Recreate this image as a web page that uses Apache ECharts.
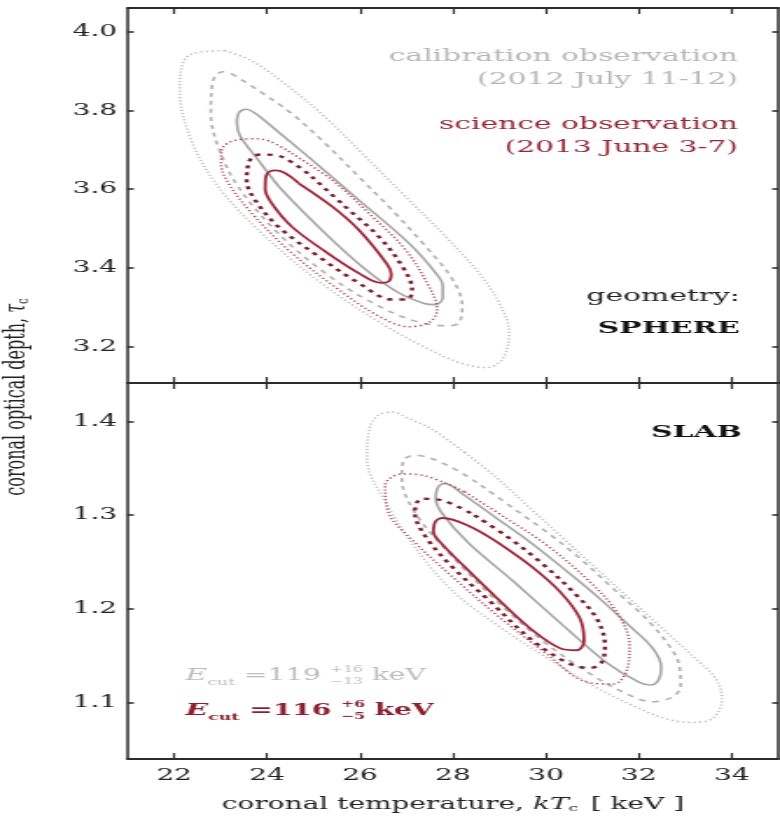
<!DOCTYPE html>
<html>
<head>
<meta charset="utf-8">
<script src="https://cdn.jsdelivr.net/npm/echarts@6.0.0/dist/echarts.min.js"></script>
<style>
  html, body { margin: 0; padding: 0; background: #fff; overflow: hidden; }
  /* the reference figure is a horizontally stretched image, so draw narrow and stretch */
  #chart { width: 446px; height: 819px; transform-origin: 0 0; transform: scaleX(1.7489); }
</style>
</head>
<body>
<div id="chart"></div>
<script>
const xTicks = [22, 24, 26, 28, 30, 32, 34];
const sphereTicks = [3.2, 3.4, 3.6, 3.8, 4.0];
const slabTicks = [1.1, 1.2, 1.3, 1.4];

// confidence contours [kT, tau]
// SPHERE, calibration observation (1, 2, 3 sigma)
const sphereCal1 = [[24.89,3.682],[25.97,3.573],[27.05,3.463],[27.63,3.387],[27.78,3.355],[27.78,3.325],[27.62,3.307],[27.38,3.31],[26.83,3.337],[26.12,3.396],[25.25,3.488],[24.32,3.598],[23.81,3.674],[23.42,3.735],[23.35,3.77],[23.40,3.795],[23.55,3.803],[23.75,3.792],[24.03,3.766],[24.89,3.682]];
const sphereCal2 = [[23.24,3.893],[23.81,3.851],[24.53,3.792],[25.25,3.716],[25.97,3.632],[26.69,3.547],[27.41,3.455],[27.99,3.371],[28.20,3.303],[28.13,3.261],[27.91,3.253],[27.19,3.265],[26.26,3.312],[25.25,3.387],[24.24,3.488],[23.38,3.606],[22.95,3.707],[22.79,3.792],[22.82,3.867],[22.90,3.889],[23.05,3.898],[23.24,3.893]];
const sphereCal3 = [[23.09,3.952],[23.67,3.926],[24.39,3.867],[25.25,3.783],[26.12,3.682],[26.98,3.581],[27.84,3.48],[28.56,3.387],[28.99,3.312],[29.21,3.236],[29.06,3.168],[28.71,3.147],[28.13,3.16],[27.41,3.198],[26.55,3.253],[25.25,3.354],[23.96,3.48],[22.95,3.606],[22.37,3.724],[22.12,3.851],[22.16,3.909],[22.37,3.943],[23.09,3.952]];
// SPHERE, science observation
const sphereSci1 = [[24.68,3.615],[25.40,3.556],[25.97,3.497],[26.58,3.41],[26.67,3.385],[26.62,3.366],[26.45,3.362],[25.97,3.387],[25.25,3.442],[24.53,3.505],[24.10,3.564],[23.96,3.60],[23.97,3.63],[24.05,3.645],[24.20,3.648],[24.68,3.615]];
const sphereSci2 = [[24.96,3.632],[25.68,3.556],[26.40,3.48],[26.91,3.404],[27.12,3.345],[27.01,3.32],[26.69,3.32],[25.97,3.362],[25.11,3.429],[24.24,3.505],[23.74,3.573],[23.56,3.623],[23.60,3.665],[23.70,3.683],[23.88,3.688],[24.32,3.682],[24.96,3.632]];
const sphereSci3 = [[24.53,3.691],[25.40,3.623],[26.26,3.531],[26.98,3.446],[27.48,3.354],[27.66,3.295],[27.48,3.261],[27.05,3.251],[26.40,3.278],[25.54,3.345],[24.53,3.438],[23.67,3.539],[23.17,3.615],[23.01,3.665],[23.02,3.699],[23.31,3.724],[23.81,3.728],[24.53,3.691]];
// SLAB, calibration observation
const slabCal1 = [[28.96,1.296],[29.67,1.271],[30.38,1.243],[31.09,1.214],[31.80,1.182],[32.30,1.158],[32.48,1.138],[32.42,1.124],[32.25,1.119],[32.00,1.122],[31.30,1.143],[30.38,1.182],[29.31,1.229],[28.32,1.271],[27.75,1.303],[27.63,1.318],[27.68,1.330],[27.82,1.334],[28.25,1.321],[28.96,1.296]];
const slabCal2 = [[28.60,1.332],[29.31,1.307],[30.02,1.282],[30.73,1.254],[31.44,1.222],[32.15,1.190],[32.65,1.161],[32.87,1.140],[32.90,1.118],[32.72,1.106],[32.30,1.101],[31.80,1.108],[30.88,1.133],[29.88,1.168],[28.89,1.211],[27.89,1.261],[27.18,1.303],[26.90,1.339],[26.93,1.358],[27.18,1.364],[27.89,1.353],[28.60,1.332]];
const slabCal3 = [[28.25,1.367],[28.96,1.339],[29.67,1.307],[30.38,1.275],[31.09,1.243],[31.80,1.211],[32.51,1.179],[33.22,1.147],[33.65,1.126],[33.79,1.104],[33.58,1.083],[33.15,1.079],[32.58,1.083],[31.87,1.097],[31.02,1.118],[30.02,1.148],[29.03,1.18],[28.04,1.217],[27.27,1.26],[26.60,1.31],[26.15,1.36],[26.20,1.392],[26.40,1.407],[26.70,1.41],[27.05,1.403],[27.54,1.392],[28.25,1.367]];
// SLAB, science observation
const slabSci1 = [[28.96,1.271],[29.67,1.246],[30.31,1.218],[30.73,1.190],[30.82,1.166],[30.66,1.156],[30.31,1.158],[29.67,1.179],[28.96,1.211],[28.25,1.245],[27.75,1.270],[27.58,1.282],[27.62,1.293],[27.78,1.297],[28.32,1.289],[28.96,1.271]];
const slabSci2 = [[28.46,1.30],[29.17,1.277],[29.88,1.25],[30.59,1.218],[31.09,1.19],[31.27,1.161],[31.20,1.143],[30.95,1.137],[30.45,1.143],[29.67,1.168],[28.82,1.207],[27.96,1.246],[27.40,1.278],[27.18,1.303],[27.33,1.3175],[27.75,1.316],[28.46,1.30]];
const slabSci3 = [[28.25,1.325],[29.17,1.296],[30.02,1.268],[30.88,1.232],[31.52,1.197],[31.80,1.161],[31.73,1.133],[31.44,1.120],[30.88,1.122],[30.02,1.152],[29.03,1.19],[28.04,1.232],[27.18,1.271],[26.61,1.303],[26.54,1.332],[26.90,1.344],[27.40,1.342],[28.25,1.325]];

const FONT = '"DejaVu Serif", serif';
const INK = '#2b2b2b';
const GRAY_TEXT = '#b7b7b7';
const RED_TEXT = '#952638';

const lineStyles = {
  cal1: { color: '#a6a6a6', width: 1.6, type: 'solid' },
  cal2: { color: '#b2b2b2', width: 1.6, type: [4, 4] },
  cal3: { color: '#bcbcbc', width: 1.5, type: [1.2, 2] },
  sci1: { color: '#a0283c', width: 1.8, type: 'solid' },
  sci2: { color: '#7e1e2e', width: 2.4, type: [3, 4] },
  sci3: { color: '#b44a5c', width: 1.5, type: [1.2, 2] },
};

const contours = [
  { data: sphereCal3, panel: 0, style: 'cal3' },
  { data: sphereCal2, panel: 0, style: 'cal2' },
  { data: sphereCal1, panel: 0, style: 'cal1' },
  { data: sphereSci3, panel: 0, style: 'sci3' },
  { data: sphereSci2, panel: 0, style: 'sci2' },
  { data: sphereSci1, panel: 0, style: 'sci1' },
  { data: slabCal3, panel: 1, style: 'cal3' },
  { data: slabCal2, panel: 1, style: 'cal2' },
  { data: slabCal1, panel: 1, style: 'cal1' },
  { data: slabSci3, panel: 1, style: 'sci3' },
  { data: slabSci2, panel: 1, style: 'sci2' },
  { data: slabSci1, panel: 1, style: 'sci1' },
];

const chart = echarts.init(document.getElementById('chart'));

const xAxis = (gridIndex, position, showLabels) => ({
  type: 'value', gridIndex, position, min: 21, max: 35,
  axisLine: { show: true, onZero: false, lineStyle: { color: INK, width: 1.8 } },
  axisTick: { show: true, inside: true, length: 6, customValues: xTicks, lineStyle: { color: INK, width: 1.2 } },
  axisLabel: { show: showLabels, customValues: xTicks, margin: 9, color: '#222', fontFamily: FONT, fontSize: 16 },
  splitLine: { show: false },
});

const yAxis = (gridIndex, position, min, max, ticks, showLabels) => ({
  type: 'value', gridIndex, position, min, max,
  axisLine: { show: true, onZero: false, lineStyle: { color: INK, width: 1.5 } },
  axisTick: { show: true, inside: true, length: 3.5, customValues: ticks, lineStyle: { color: INK, width: 1.6 } },
  axisLabel: { show: showLabels, customValues: ticks, margin: 6, color: '#222', fontFamily: FONT, fontSize: 16,
    formatter: (v) => v.toFixed(1) },
  splitLine: { show: false },
});

// E_cut rows with stacked errors, laid out by measured widths
const ctx = document.createElement('canvas').getContext('2d');
const textWidth = (text, font) => { ctx.font = font; return ctx.measureText(text).width; };

function ecutRow(x0, y, value, up, down, color, weight) {
  const f = (size, style) => `${style || 'normal'} ${weight} ${size}px "DejaVu Serif"`;
  const els = [];
  let x = x0;
  const add = (text, font, dy, advance) => {
    els.push({ type: 'text', x: x, y: y + dy, silent: true,
      style: { text, font, fill: color, verticalAlign: 'middle' } });
    if (advance) x += textWidth(text, font);
  };
  add('E', f(17, 'italic'), 0, true);
  add('cut', f(10), 6, true);
  add(' =' + value + ' ', f(16), 0, true);
  const sx = x;
  add('+' + up, f(9), -6, false);
  add('\u2212' + down, f(9), 6, false);
  x = sx + Math.max(textWidth('+' + up, f(9)), textWidth('\u2212' + down, f(9)));
  add(' keV', f(16), 0, true);
  return els;
}

const note = (text, x, y, color, weight) => ({
  type: 'text', x, y, silent: true,
  style: { text, fill: color, font: `${weight || 'normal'} 17px ${FONT}`, align: 'right', verticalAlign: 'middle' },
});

const option = {
  animation: false,
  backgroundColor: '#fff',
  grid: [
    { left: 73, right: 1, top: 8, height: 375 },
    { left: 73, right: 1, top: 383, height: 376 },
  ],
  xAxis: [
    xAxis(0, 'bottom', false),
    xAxis(0, 'top', false),
    xAxis(1, 'top', false),
    Object.assign(xAxis(1, 'bottom', true), {
      name: '{t|coronal temperature, }{i|kT}{s|c}{t| [ keV ]}',
      nameLocation: 'middle',
      nameGap: 37,
      nameTextStyle: {
        rich: {
          t: { fontFamily: FONT, fontSize: 16, color: '#222' },
          i: { fontFamily: FONT, fontSize: 16, fontStyle: 'italic', color: '#222' },
          s: { fontFamily: FONT, fontSize: 10, color: '#222', padding: [7, 2, 0, 0] },
        },
      },
    }),
  ],
  yAxis: [
    yAxis(0, 'left', 3.108, 4.06, sphereTicks, true),
    yAxis(0, 'right', 3.108, 4.06, sphereTicks, false),
    yAxis(1, 'left', 1.04, 1.441, slabTicks, true),
    yAxis(1, 'right', 1.04, 1.441, slabTicks, false),
  ],
  series: contours.map((c) => ({
    type: 'line',
    xAxisIndex: c.panel === 0 ? 0 : 3,
    yAxisIndex: c.panel === 0 ? 0 : 2,
    data: c.data,
    smooth: 0.35,
    showSymbol: false,
    silent: true,
    lineStyle: lineStyles[c.style],
  })),
  graphic: [
    {
      type: 'text', x: 10, y: 397, rotation: Math.PI / 2, silent: true,
      style: {
        text: '{t|coronal optical depth, }{i|\u03c4}{s|c}',
        align: 'center', verticalAlign: 'middle',
        rich: {
          t: { fontFamily: FONT, fontSize: 16, fill: '#222' },
          i: { fontFamily: FONT, fontSize: 16, fontStyle: 'italic', fill: '#222' },
          s: { fontFamily: FONT, fontSize: 10, fill: '#222', padding: [7, 0, 0, 0] },
        },
      },
    },
    note('calibration observation', 422, 57, GRAY_TEXT),
    note('(2012 July 11-12)', 422, 80, GRAY_TEXT),
    note('science observation', 422, 125, RED_TEXT),
    note('(2013 June 3-7)', 422, 148, RED_TEXT),
    note('geometry:', 423, 297, '#222'),
    note('SPHERE', 423, 329, '#111', 'bold'),
    note('SLAB', 424, 433, '#111', 'bold'),
    ...ecutRow(106, 676, 119, 16, 13, '#bdbdbd', 'normal'),
    ...ecutRow(106, 711, 116, 6, 5, '#8c1f30', 'bold'),
  ],
};

chart.setOption(option);
</script>
</body>
</html>
